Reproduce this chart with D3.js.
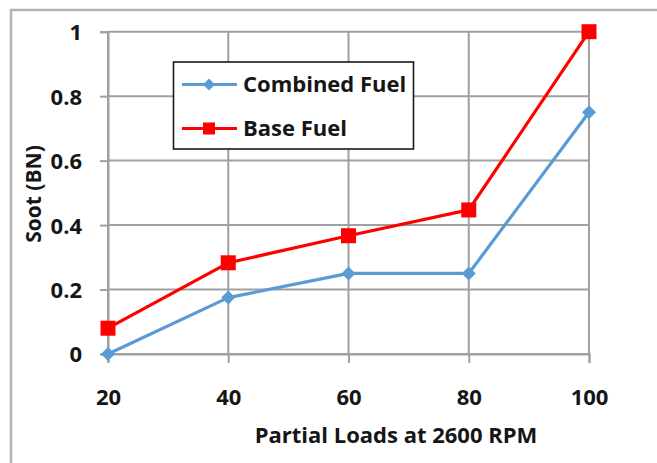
<!DOCTYPE html>
<html>
<head>
<meta charset="utf-8">
<script src="https://cdn.jsdelivr.net/npm/d3@7/dist/d3.min.js"></script>
<style>
  html, body { margin: 0; padding: 0; background: #fff; }
  svg { display: block; }
  text { font-family: "Open Sans", "DejaVu Sans", sans-serif; font-weight: bold; fill: #161616; }
</style>
</head>
<body>
<svg id="chart" width="657" height="463"></svg>
<script>
const loads = [20, 40, 60, 80, 100];
const combinedFuel = [0, 0.175, 0.25, 0.25, 0.75];
const baseFuel = [0.08, 0.283, 0.367, 0.447, 1.0];
const yTicks = [0, 0.2, 0.4, 0.6, 0.8, 1];
const yTickLabels = ["0", "0.2", "0.4", "0.6", "0.8", "1"];
const seriesNames = ["Combined Fuel", "Base Fuel"];

const svg = d3.select("#chart");
const W = 657, H = 463;

// outer frame
svg.append("rect").attr("x", 11).attr("y", 10).attr("width", 700).attr("height", 500)
  .attr("fill", "none").attr("stroke", "#b4b4b4").attr("stroke-width", 2.5);

const x = d3.scaleLinear().domain([20, 100]).range([108, 589]);
const y = d3.scaleLinear().domain([0, 1]).range([354, 31.7]);

const gridColor = "#a0a0a0";
const g = svg.append("g");

// horizontal gridlines
g.selectAll(".hg").data(yTicks).join("line")
  .attr("x1", x(20)).attr("x2", x(100))
  .attr("y1", d => y(d)).attr("y2", d => y(d))
  .attr("stroke", gridColor).attr("stroke-width", 2);
// vertical gridlines
g.selectAll(".vg").data(loads).join("line")
  .attr("x1", d => x(d)).attr("x2", d => x(d))
  .attr("y1", y(0)).attr("y2", y(1))
  .attr("stroke", gridColor).attr("stroke-width", 2);

// y axis
const yAxis = d3.axisLeft(y).tickValues(yTicks).tickSize(8).tickPadding(18)
  .tickFormat((d, i) => yTickLabels[i]);
const ya = svg.append("g").attr("transform", `translate(${x(20)},0)`).call(yAxis);
ya.select(".domain").attr("stroke", gridColor).attr("stroke-width", 2);
ya.selectAll(".tick line").attr("stroke", gridColor).attr("stroke-width", 2);
ya.selectAll(".tick text").style("font-size", "22px").attr("fill", "#161616")
  .attr("font-family", null).attr("dy", "0.36em");

// x axis
const xAxis = d3.axisBottom(x).tickValues(loads).tickSize(9).tickPadding(26)
  .tickFormat(d3.format("d"));
const xa = svg.append("g").attr("transform", `translate(0,${y(0)})`).call(xAxis);
xa.select(".domain").attr("stroke", gridColor).attr("stroke-width", 2);
xa.selectAll(".tick line").attr("stroke", gridColor).attr("stroke-width", 2);
xa.selectAll(".tick text").style("font-size", "22px").attr("fill", "#161616")
  .attr("font-family", null);
svg.selectAll(".tick text").attr("font-size", null);
svg.selectAll("g").attr("font-family", null).attr("font-size", null);

// axis titles
svg.append("text").attr("x", 396).attr("y", 443).attr("text-anchor", "middle")
  .style("font-size", "22px").text("Partial Loads at 2600 RPM");
svg.append("text").attr("transform", "translate(41,194) rotate(-90)")
  .attr("text-anchor", "middle").style("font-size", "21px").text("Soot (BN)");

const colors = ["#5b9bd5", "#ff0000"];
const data = [combinedFuel, baseFuel];
const line = d3.line().x((d, i) => x(loads[i])).y(d => y(d));

data.forEach((vals, s) => {
  svg.append("path").datum(vals).attr("d", line)
    .attr("fill", "none").attr("stroke", colors[s]).attr("stroke-width", 3.2)
    .attr("stroke-linejoin", "round");
});

const diamond = (sel, cx, cy, r) => sel.append("path")
  .attr("d", `M${cx},${cy - r}L${cx + r},${cy}L${cx},${cy + r}L${cx - r},${cy}Z`)
  .attr("fill", colors[0]);

combinedFuel.forEach((v, i) => diamond(svg, x(loads[i]), y(v), 7));
svg.selectAll(".sq").data(baseFuel).join("rect")
  .attr("x", (d, i) => x(loads[i]) - 7.5).attr("y", d => y(d) - 7.5)
  .attr("width", 15).attr("height", 15).attr("fill", colors[1]);

// legend
const lg = svg.append("g");
lg.append("rect").attr("x", 173.5).attr("y", 62).attr("width", 240).attr("height", 87)
  .attr("fill", "#fff").attr("stroke", "#1a1a1a").attr("stroke-width", 1.6);
const ly = [84.5, 128.5];
seriesNames.forEach((name, s) => {
  lg.append("line").attr("x1", 182).attr("x2", 237).attr("y1", ly[s]).attr("y2", ly[s])
    .attr("stroke", colors[s]).attr("stroke-width", 3.2);
  if (s === 0) diamond(lg, 209, ly[s], 6);
  else lg.append("rect").attr("x", 203).attr("y", ly[s] - 6).attr("width", 12).attr("height", 12).attr("fill", colors[1]);
  lg.append("text").attr("x", 243).attr("y", ly[s]).attr("dy", "0.36em")
    .style("font-size", "22px").text(name);
});
</script>
</body>
</html>
